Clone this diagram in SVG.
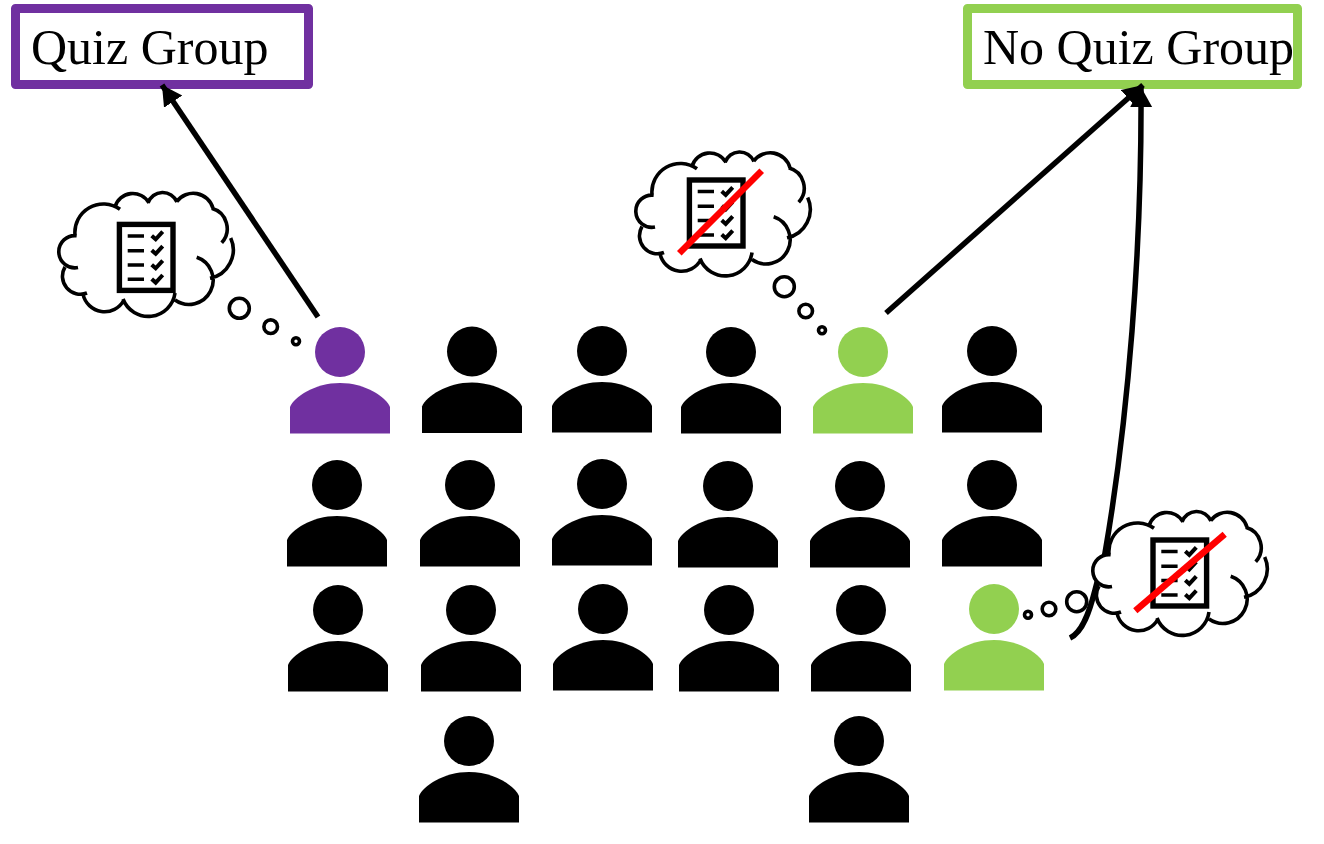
<svg xmlns="http://www.w3.org/2000/svg" width="1324" height="844" viewBox="0 0 1324 844">
<style>
.box{fill:#fff;stroke-width:9;stroke-linejoin:round}
.label{font-family:"Liberation Serif","Times New Roman",serif;font-size:50px;fill:#000}
.cl{fill:none;stroke:#000;stroke-width:3.600}
.bub{fill:#fff;stroke:#000;stroke-width:3.600}
.conn{fill:none;stroke:#000;stroke-width:5.500}
.red{stroke:#f00;stroke-width:6.500}
.doc{fill:none;stroke:#000;stroke-width:5.400}
.dl{stroke:#000;stroke-width:3.500;fill:none}
.ck{stroke:#000;stroke-width:4;fill:none}
</style>
<defs>
<marker id="ah" markerUnits="userSpaceOnUse" markerWidth="24" markerHeight="24" refX="20" refY="11" orient="auto"><path d="M0,0 L20,11 L0,22 Z" fill="#000"/></marker>
<g id="person"><circle cx="0" cy="0" r="25"/><path d="M-50,81.500 V55 C-46,45 -25,31 0,31 C25,31 46,45 50,55 V81.500 Z"/></g>
<path id="cloud-fill" fill="#fff" d="M36.700,65.700 A16.100,16.100 0 1 0 37,97.500 L25,97 A18,18 0 0 0 47,123 L43,124 A22,22 0 0 0 83,130 A27,27 0 0 0 135,123 L135,130 A24.200,24.200 0 0 0 170,108 A29,29 0 0 0 190.700,68 L181.700,72.700 A21,21 0 0 0 171.700,38.300 A20.500,20.500 0 0 0 136.700,31.700 A15.500,15.500 0 0 0 108,33 A18.500,18.500 0 0 0 75,37 A28.500,28.500 0 0 0 35,65 Z"/>
<path id="cloud" class="cl" d="M36.700,65.700 A16.100,16.100 0 1 0 38,97.500 M25,97 A18,18 0 0 0 47,123 M43,124 A22,22 0 0 0 84,130 M83,129 A27,27 0 0 0 135,123 M135,130 A24.200,24.200 0 1 0 156.700,87.300 M170,108.300 A29,29 0 0 0 190.700,68 M181.700,72.700 A21,21 0 0 0 171.700,38.300 M173,38.300 A20.500,20.500 0 0 0 136.700,31.700 M137,32 A15.500,15.500 0 0 0 108,33 M109,33 A18.500,18.500 0 0 0 75,37 M80,39.300 A28.500,28.500 0 0 0 35,65"/>
<g id="doc"><rect class="doc" x="2.700" y="2.700" width="53.600" height="66"/><path class="dl" d="M11,14.300 H27.300 M11,29 H27.300 M11,43.300 H27.300 M11,57.600 H27.300"/><path class="ck" d="M35,14 L39,17.600 L46,10 M35,28.500 L39,32.100 L46,24.500 M35,43 L39,46.600 L46,39 M35,57.300 L39,60.900 L46,53.300"/></g>
</defs>
<rect width="1324" height="844" fill="#fff"/>
<g id="quiz-box"><rect class="box" stroke="#7030a0" x="15.500" y="8.500" width="293" height="76"/><text class="label" x="31" y="64">Quiz Group</text></g>
<g id="noquiz-box"><rect class="box" stroke="#92d050" x="967.500" y="8.500" width="330" height="76"/><text class="label" x="983" y="64">No Quiz Group</text></g>
<g id="connectors">
<path class="conn" marker-end="url(#ah)" d="M318,317 L162,85"/>
<path class="conn" marker-end="url(#ah)" d="M886,313 L1143,85"/>
<path class="conn" marker-end="url(#ah)" d="M1070,638 C1083,632 1090,610 1095,590 C1100,570 1103,565 1105,553 C1128,420 1142,250 1141,87"/>
</g>
<g id="thought-1">
<use href="#cloud" x="40" y="170"/><use href="#doc" x="116.700" y="221.700"/>
<circle class="bub" cx="239.300" cy="308.300" r="10"/><circle class="bub" cx="270.700" cy="326.700" r="6.800"/><circle class="bub" cx="296" cy="341.300" r="3.500"/>
</g>
<g id="thought-2">
<use href="#cloud" x="617" y="129.500"/><use href="#doc" x="686.700" y="177.300"/>
<path class="red" d="M679.300,253.300 L761.700,170.700"/>
<circle class="bub" cx="784.300" cy="286.700" r="10"/><circle class="bub" cx="805.700" cy="311" r="6.800"/><circle class="bub" cx="822" cy="330.300" r="3.500"/>
</g>
<g id="thought-3">
<use href="#cloud-fill" x="1074" y="489"/><use href="#cloud" x="1074" y="489"/><use href="#doc" x="1150.300" y="537.300"/>
<path class="red" d="M1135.300,610.700 L1224.700,534.300"/>
<circle class="bub" cx="1076.700" cy="601.700" r="10" style="fill:none"/><circle class="bub" cx="1049" cy="609" r="6.800"/><circle class="bub" cx="1028" cy="614.700" r="3.500"/>
</g>
<g id="p1" fill="#7030a0"><use href="#person" x="340" y="352"/></g>
<g id="p2"><use href="#person" x="472" y="351.500"/></g>
<g id="p3"><use href="#person" x="602" y="351"/></g>
<g id="p4"><use href="#person" x="731" y="352"/></g>
<g id="p5" fill="#92d050"><use href="#person" x="863" y="352"/></g>
<g id="p6"><use href="#person" x="992" y="351"/></g>
<g id="p7"><use href="#person" x="337" y="485"/></g>
<g id="p8"><use href="#person" x="470" y="485"/></g>
<g id="p9"><use href="#person" x="602" y="484"/></g>
<g id="p10"><use href="#person" x="728" y="486"/></g>
<g id="p11"><use href="#person" x="860" y="486"/></g>
<g id="p12"><use href="#person" x="992" y="485"/></g>
<g id="p13"><use href="#person" x="338" y="610"/></g>
<g id="p14"><use href="#person" x="471" y="610"/></g>
<g id="p15"><use href="#person" x="603" y="609"/></g>
<g id="p16"><use href="#person" x="729" y="610"/></g>
<g id="p17"><use href="#person" x="861" y="610"/></g>
<g id="p18" fill="#92d050"><use href="#person" x="994" y="609"/></g>
<g id="p19"><use href="#person" x="469" y="741"/></g>
<g id="p20"><use href="#person" x="859" y="741"/></g>
</svg>
